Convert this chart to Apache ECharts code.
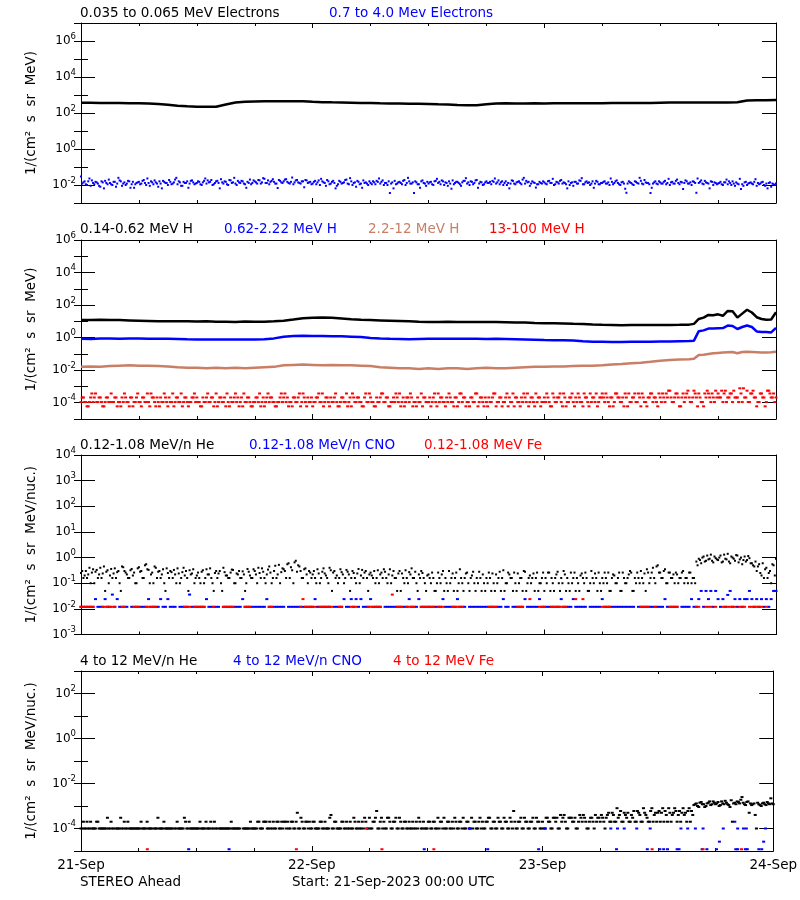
<!DOCTYPE html>
<html><head><meta charset="utf-8">
<script src="https://cdn.jsdelivr.net/npm/echarts@6/dist/echarts.min.js"></script>
<style>html,body{margin:0;padding:0;background:#fff}#c{width:800px;height:900px}</style>
</head><body><div id="c"></div>
<script>
const _ = null;
const STEP = 0.25;   // hours between samples of the scatter series
const OFFSET = 0.125; // second (interleaved) sample set starts half a step later
const xTickLabels = ['21-Sep', '22-Sep', '23-Sep', '24-Sep'];

// Panel 1: 0.035-0.065 MeV electrons (hourly)
const eLow = [370,368,365,362,358,352, 345,335,320,290, 250,235,225,220,222, 300,380,425,
  440,445,448,450,450,445, 420,400,390,385,375, 365,355,345,340,335,330,325,320,
  305,298,280,268,270, 310,340,345,340,342,345,340, 345,348,350,345,350,352,355,355,358,360,
  362,375,380,380,378,380,382,385, 388,395,500,510,505,520];
// Panel 1: 0.7-4.0 MeV electrons (samples at i*STEP)
const eHigh = [
  0.03,0.014,0.011,0.016,0.009,0.013,0.015,0.012,0.008,0.014,0.017,0.011,0.013,0.01,0.015,0.012,0.018,0.009,0.014,0.012,0.016,0.011,0.007,0.013,
  0.015,0.012,0.019,0.01,0.013,0.016,0.011,0.014,0.008,0.012,0.017,0.013,0.01,0.015,0.012,0.02,0.011,0.014,0.009,0.013,0.016,0.012,0.018,0.011,
  0.013,0.015,0.01,0.017,0.012,0.014,0.019,0.011,0.016,0.013,0.021,0.012,0.015,0.01,0.018,0.014,0.012,0.017,0.013,0.016,0.011,0.015,0.02,0.013,
  0.016,0.012,0.018,0.014,0.022,0.013,0.011,0.017,0.015,0.012,0.019,0.014,0.016,0.021,0.013,0.015,0.011,0.018,0.014,0.012,0.016,0.019,0.013,0.015,
  0.012,0.017,0.014,0.01,0.016,0.013,0.019,0.011,0.015,0.013,0.009,0.017,0.012,0.014,0.02,0.011,0.016,0.013,0.008,0.015,0.012,0.018,0.014,0.01,
  0.013,0.016,0.011,0.015,0.012,0.018,0.013,0.01,0.0036,0.014,0.017,0.012,0.015,0.011,0.019,0.013,0.016,0.012,0.0036,0.014,0.011,0.016,0.013,0.009,
  0.012,0.015,0.01,0.017,0.013,0.011,0.016,0.014,0.009,0.012,0.018,0.013,0.015,0.011,0.014,0.017,0.012,0.01,0.015,0.013,0.019,0.012,0.014,0.011,
  0.016,0.013,0.011,0.015,0.012,0.018,0.014,0.01,0.016,0.013,0.012,0.017,0.011,0.015,0.013,0.02,0.012,0.014,0.009,0.016,0.013,0.011,0.015,0.012,
  0.014,0.011,0.017,0.013,0.01,0.015,0.012,0.019,0.014,0.011,0.016,0.013,0.009,0.015,0.012,0.017,0.011,0.014,0.013,0.01,0.016,0.012,0.015,0.011,
  0.013,0.016,0.012,0.01,0.015,0.013,0.018,0.011,0.014,0.012,0.0037,0.016,0.013,0.01,0.015,0.012,0.017,0.011,0.014,0.013,0.0036,0.012,0.016,0.011,
  0.014,0.012,0.017,0.013,0.01,0.015,0.012,0.02,0.011,0.014,0.013,0.016,0.012,0.01,0.015,0.0037,0.013,0.018,0.011,0.014,0.012,0.016,0.01,0.013,
  0.012,0.015,0.01,0.014,0.011,0.013,0.016,0.009,0.012,0.022,0.011,0.014,0.01,0.013,0.012,0.015,0.009,0.011,0.014,0.01,0.012,0.013,0.008,0.011,
  0.012];
// Panel 1: 0.7-4.0 MeV electrons (samples at i*STEP + OFFSET)
const eHighB = [
  0.012,0.016,0.01,0.023,0.018,0.011,0.014,0.009,0.016,0.0065,0.013,0.02,0.011,0.015,0.008,0.025,0.016,0.012,0.01,0.017,0.007,0.015,0.011,0.014,
  0.011,0.017,0.013,0.023,0.009,0.014,0.018,0.012,0.016,0.0065,0.015,0.013,0.019,0.011,0.014,0.025,0.016,0.009,0.015,0.013,0.007,0.017,0.014,0.012,
  0.016,0.011,0.014,0.023,0.018,0.015,0.01,0.013,0.017,0.0065,0.014,0.016,0.011,0.019,0.013,0.025,0.01,0.014,0.017,0.012,0.007,0.013,0.011,0.018,
  0.014,0.019,0.012,0.024,0.013,0.018,0.015,0.021,0.012,0.0068,0.017,0.013,0.02,0.015,0.012,0.026,0.014,0.019,0.013,0.016,0.0075,0.018,0.014,0.011,
  0.015,0.011,0.018,0.022,0.014,0.009,0.016,0.012,0.017,0.0065,0.011,0.015,0.013,0.019,0.012,0.024,0.01,0.014,0.017,0.011,0.007,0.013,0.012,0.016,
  0.011,0.014,0.017,0.023,0.015,0.01,0.013,0.016,0.012,0.0065,0.011,0.014,0.013,0.017,0.01,0.025,0.012,0.014,0.016,0.011,0.007,0.018,0.012,0.015,
  0.014,0.011,0.016,0.022,0.015,0.018,0.01,0.013,0.016,0.0062,0.011,0.015,0.013,0.009,0.017,0.024,0.014,0.016,0.011,0.018,0.007,0.015,0.01,0.014,
  0.013,0.015,0.017,0.023,0.014,0.011,0.016,0.013,0.01,0.0065,0.018,0.012,0.014,0.016,0.011,0.025,0.017,0.015,0.012,0.014,0.0072,0.011,0.013,0.016,
  0.012,0.016,0.013,0.022,0.011,0.014,0.017,0.012,0.013,0.0065,0.01,0.014,0.015,0.012,0.018,0.024,0.011,0.016,0.014,0.012,0.007,0.017,0.011,0.013,
  0.015,0.012,0.014,0.023,0.011,0.016,0.013,0.01,0.015,0.0062,0.012,0.014,0.011,0.016,0.013,0.025,0.012,0.019,0.013,0.011,0.007,0.014,0.012,0.016,
  0.012,0.015,0.011,0.022,0.014,0.012,0.017,0.013,0.015,0.006,0.018,0.012,0.014,0.016,0.013,0.023,0.015,0.012,0.017,0.013,0.0065,0.015,0.014,0.011,
  0.013,0.011,0.014,0.02,0.016,0.01,0.012,0.014,0.011,0.006,0.009,0.015,0.012,0.014,0.011,0.021,0.013,0.012,0.015,0.009,0.0065,0.014,0.012,0.01];

// Panel 2 lines: hours 0..63 hourly, then half-hourly to 72
const tP2 = [];
for (let h = 0; h <= 63; h++) tP2.push(h);
for (let h = 63.5; h <= 72; h += 0.5) tP2.push(h);
const hLow = [12,12,12.5,12,12,11.5,11, 10.5,10,10,10,10,9.8,10,9.6, 9.5,9.3,9.8,9.5,9.6,10,
  11,13,15.5,16.5,17,16.5,15, 13.5,12.5,12,11.5,11,10.5,10,9.5,
  9.3,9.3,9.5,9.2,9.3,9.0,9.2,9.0,8.8,8.6,8.5, 8,7.7,7.6,7.5,7.2,7.0,
  6.5,6.2,6.0,5.8,6.0,6.0,5.9,6.0,6.0,6.1,6.3,
  7,14,17,25,24,27,22,44,42,17,30,52,35,18,14,12.5,13,36];
const hMid = [0.85,0.83,0.88,0.9,0.86,0.88,0.87, 0.86,0.85,0.84,0.83,0.8,0.78,0.76,0.77, 0.76,0.77,0.78,0.77,0.8,0.9,
  1.15,1.25,1.3,1.28,1.25,1.22,1.2, 1.15,1.1,0.95,0.88,0.85,0.83,0.8,0.82,
  0.84,0.86,0.85,0.84,0.85,0.84,0.83,0.84,0.82,0.8,0.78, 0.75,0.72,0.7,0.68,0.66,0.6,
  0.56,0.55,0.54,0.53,0.55,0.56,0.55,0.57,0.58,0.6,0.62,
  0.65,2.5,2.8,3.6,3.7,3.8,3.9,5.5,5.2,3.4,4.5,5.6,4.5,2.4,2.2,2.2,2.1,4.0];
const hHigh = [0.016,0.017,0.016,0.018,0.019,0.02,0.019, 0.019,0.018,0.017,0.015,0.014,0.014,0.013,0.014,
  0.013,0.014,0.013,0.014,0.015,0.016, 0.02,0.021,0.022,0.021,0.02,0.021,0.02,
  0.02,0.019,0.018,0.015,0.014,0.013,0.013,0.012,
  0.013,0.012,0.013,0.013,0.012,0.013,0.014,0.013,0.013,0.014,0.015, 0.016,0.016,0.017,0.017,0.018,0.019,
  0.019,0.02,0.022,0.024,0.027,0.029,0.033,0.038,0.042,0.045,0.047,
  0.05,0.085,0.09,0.1,0.11,0.115,0.12,0.125,0.13,0.11,0.13,0.135,0.13,0.125,0.12,0.12,0.125,0.135];
// Panel 2: 13-100 MeV H (samples at i*STEP)
const hTop = [
  1.1e-4,2.1e-4,1.1e-4,6e-5,2.1e-4,1.1e-4,3.7e-4,1.1e-4,2.1e-4,6e-5,1.1e-4,2.1e-4,1.1e-4,1.1e-4,2.1e-4,6e-5,1.1e-4,2.1e-4,3.7e-4,1.1e-4,6e-5,2.1e-4,1.1e-4,2.1e-4,
  1.1e-4,6e-5,2.1e-4,1.1e-4,1.1e-4,3.7e-4,2.1e-4,6e-5,1.1e-4,2.1e-4,1.1e-4,2.1e-4,6e-5,1.1e-4,3.7e-4,1.1e-4,2.1e-4,1.1e-4,6e-5,2.1e-4,1.1e-4,1.1e-4,2.1e-4,3.7e-4,
  2.1e-4,1.1e-4,6e-5,1.1e-4,2.1e-4,1.1e-4,2.1e-4,6e-5,3.7e-4,1.1e-4,2.1e-4,1.1e-4,6e-5,1.1e-4,2.1e-4,1.1e-4,3.7e-4,2.1e-4,1.1e-4,6e-5,1.1e-4,2.1e-4,1.1e-4,6e-5,
  1.1e-4,2.1e-4,3.7e-4,1.1e-4,6e-5,2.1e-4,1.1e-4,2.1e-4,1.1e-4,6e-5,1.1e-4,3.7e-4,2.1e-4,1.1e-4,6e-5,1.1e-4,2.1e-4,1.1e-4,2.1e-4,6e-5,3.7e-4,1.1e-4,2.1e-4,1.1e-4,
  6e-5,1.1e-4,2.1e-4,1.1e-4,3.7e-4,1.1e-4,2.1e-4,6e-5,1.1e-4,2.1e-4,1.1e-4,6e-5,2.1e-4,1.1e-4,3.7e-4,1.1e-4,6e-5,2.1e-4,1.1e-4,2.1e-4,1.1e-4,6e-5,3.7e-4,1.1e-4,
  2.1e-4,1.1e-4,6e-5,1.1e-4,2.1e-4,3.7e-4,1.1e-4,2.1e-4,6e-5,1.1e-4,1.1e-4,2.1e-4,3.7e-4,1.1e-4,6e-5,2.1e-4,1.1e-4,2.1e-4,1.1e-4,6e-5,1.1e-4,3.7e-4,2.1e-4,1.1e-4,
  1.1e-4,6e-5,2.1e-4,1.1e-4,3.7e-4,2.1e-4,1.1e-4,6e-5,1.1e-4,2.1e-4,1.1e-4,2.1e-4,6e-5,3.7e-4,1.1e-4,2.1e-4,1.1e-4,6e-5,2.1e-4,1.1e-4,3.7e-4,1.1e-4,2.1e-4,6e-5,
  1.1e-4,2.1e-4,1.1e-4,3.7e-4,6e-5,1.1e-4,2.1e-4,1.1e-4,2.1e-4,6e-5,1.1e-4,3.7e-4,2.1e-4,1.1e-4,6e-5,1.1e-4,2.1e-4,3.7e-4,1.1e-4,2.1e-4,6e-5,1.1e-4,2.1e-4,1.1e-4,
  2.1e-4,3.7e-4,1.1e-4,6e-5,2.1e-4,1.1e-4,2.1e-4,1.1e-4,3.7e-4,6e-5,1.1e-4,2.1e-4,1.1e-4,2.1e-4,3.7e-4,1.1e-4,6e-5,2.1e-4,1.1e-4,3.7e-4,2.1e-4,1.1e-4,6e-5,2.1e-4,
  3.7e-4,1.1e-4,2.1e-4,6e-5,2.1e-4,1.1e-4,3.7e-4,2.1e-4,1.1e-4,6e-5,2.1e-4,3.7e-4,1.1e-4,2.1e-4,1.1e-4,3.7e-4,6e-5,2.1e-4,1.1e-4,2.1e-4,3.7e-4,1.1e-4,2.1e-4,6e-5,
  2.1e-4,3.7e-4,1.1e-4,2.1e-4,5.5e-4,1.1e-4,2.1e-4,3.7e-4,6e-5,2.1e-4,1.1e-4,3.7e-4,2.1e-4,1.1e-4,5.5e-4,2.1e-4,3.7e-4,1.1e-4,6e-5,2.1e-4,3.7e-4,1.1e-4,2.1e-4,5.5e-4,
  3.7e-4,2.1e-4,1.1e-4,5.5e-4,2.1e-4,3.7e-4,1.1e-4,2.1e-4,2.1e-4,7.7e-4,1.1e-4,2.1e-4,5.5e-4,1.1e-4,3.7e-4,2.1e-4,6e-5,1.1e-4,3.7e-4,2.1e-4,1.1e-4,5.5e-4,2.1e-4,3.7e-4,
  2.1e-4];
// Panel 2: 13-100 MeV H (samples at i*STEP + OFFSET)
const hTopB = [
  2.1e-4,1.1e-4,6e-5,1.1e-4,3.7e-4,2.1e-4,1.1e-4,2.1e-4,1.1e-4,6e-5,2.1e-4,1.1e-4,3.7e-4,1.1e-4,2.1e-4,1.1e-4,6e-5,1.1e-4,2.1e-4,1.1e-4,2.1e-4,6e-5,1.1e-4,3.7e-4,
  1.1e-4,2.1e-4,1.1e-4,3.7e-4,6e-5,2.1e-4,1.1e-4,2.1e-4,6e-5,1.1e-4,3.7e-4,1.1e-4,2.1e-4,1.1e-4,6e-5,2.1e-4,1.1e-4,3.7e-4,1.1e-4,2.1e-4,6e-5,1.1e-4,2.1e-4,1.1e-4,
  1.1e-4,6e-5,2.1e-4,1.1e-4,3.7e-4,1.1e-4,2.1e-4,1.1e-4,6e-5,2.1e-4,1.1e-4,2.1e-4,3.7e-4,6e-5,1.1e-4,2.1e-4,1.1e-4,6e-5,2.1e-4,3.7e-4,1.1e-4,2.1e-4,6e-5,1.1e-4,
  2.1e-4,1.1e-4,6e-5,2.1e-4,1.1e-4,3.7e-4,2.1e-4,1.1e-4,6e-5,1.1e-4,2.1e-4,1.1e-4,3.7e-4,2.1e-4,1.1e-4,6e-5,2.1e-4,1.1e-4,3.7e-4,1.1e-4,2.1e-4,6e-5,1.1e-4,2.1e-4,
  1.1e-4,2.1e-4,3.7e-4,1.1e-4,6e-5,2.1e-4,1.1e-4,2.1e-4,1.1e-4,3.7e-4,6e-5,1.1e-4,2.1e-4,1.1e-4,6e-5,2.1e-4,3.7e-4,1.1e-4,2.1e-4,1.1e-4,6e-5,2.1e-4,1.1e-4,3.7e-4,
  1.1e-4,6e-5,2.1e-4,1.1e-4,3.7e-4,1.1e-4,2.1e-4,6e-5,1.1e-4,2.1e-4,3.7e-4,1.1e-4,6e-5,2.1e-4,1.1e-4,2.1e-4,3.7e-4,6e-5,1.1e-4,2.1e-4,1.1e-4,6e-5,2.1e-4,1.1e-4,
  2.1e-4,1.1e-4,3.7e-4,6e-5,1.1e-4,2.1e-4,1.1e-4,2.1e-4,3.7e-4,1.1e-4,6e-5,2.1e-4,1.1e-4,3.7e-4,2.1e-4,6e-5,1.1e-4,2.1e-4,1.1e-4,3.7e-4,6e-5,2.1e-4,1.1e-4,2.1e-4,
  6e-5,1.1e-4,2.1e-4,3.7e-4,1.1e-4,2.1e-4,6e-5,1.1e-4,3.7e-4,2.1e-4,1.1e-4,6e-5,2.1e-4,1.1e-4,2.1e-4,3.7e-4,1.1e-4,6e-5,2.1e-4,1.1e-4,3.7e-4,2.1e-4,6e-5,1.1e-4,
  1.1e-4,2.1e-4,6e-5,3.7e-4,1.1e-4,2.1e-4,3.7e-4,6e-5,2.1e-4,1.1e-4,2.1e-4,3.7e-4,6e-5,1.1e-4,2.1e-4,1.1e-4,3.7e-4,2.1e-4,6e-5,1.1e-4,2.1e-4,3.7e-4,1.1e-4,2.1e-4,
  2.1e-4,3.7e-4,1.1e-4,2.1e-4,6e-5,3.7e-4,2.1e-4,1.1e-4,2.1e-4,3.7e-4,6e-5,1.1e-4,2.1e-4,3.7e-4,1.1e-4,2.1e-4,3.7e-4,1.1e-4,6e-5,2.1e-4,3.7e-4,2.1e-4,1.1e-4,3.7e-4,
  1.1e-4,2.1e-4,3.7e-4,5.5e-4,2.1e-4,1.1e-4,3.7e-4,2.1e-4,6e-5,3.7e-4,2.1e-4,5.5e-4,1.1e-4,2.1e-4,3.7e-4,6e-5,2.1e-4,1.1e-4,3.7e-4,5.5e-4,2.1e-4,3.7e-4,1.1e-4,2.1e-4,
  2.1e-4,5.5e-4,3.7e-4,1.1e-4,2.1e-4,3.7e-4,5.5e-4,2.1e-4,1.1e-4,3.7e-4,7.7e-4,2.1e-4,1.1e-4,3.7e-4,5.5e-4,2.1e-4,1.1e-4,3.7e-4,2.1e-4,6e-5,5.5e-4,3.7e-4,2.1e-4,1.1e-4];

// Panel 3: 0.12-1.08 MeV/n (samples at i*STEP)
const heLow = [
  0.25,0.16,0.3,0.22,0.1,0.35,0.28,0.16,0.4,0.24,0.05,0.32,0.2,0.16,0.38,0.27,0.1,0.45,0.3,0.22,0.16,0.36,0.26,0.1,
  0.42,0.3,0.16,0.55,0.33,0.22,0.1,0.4,0.28,0.16,0.35,0.05,0.25,0.3,0.16,0.22,0.38,0.1,0.27,0.2,0.16,0.32,0.24,0.1,
  0.2,0.16,0.28,0.1,0.35,0.22,0.16,0.05,0.3,0.24,0.1,0.4,0.2,0.16,0.26,0.33,0.1,0.22,0.16,0.29,0.05,0.36,0.2,0.16,
  0.3,0.1,0.25,0.38,0.16,0.22,0.45,0.1,0.3,0.16,0.52,0.27,0.35,0.16,0.6,0.42,0.1,0.75,0.5,0.3,0.16,0.38,0.1,0.26,
  0.22,0.16,0.35,0.1,0.28,0.24,0.16,0.4,0.05,0.3,0.2,0.16,0.27,0.1,0.33,0.22,0.16,0.25,0.1,0.36,0.2,0.16,0.3,0.05,
  0.26,0.16,0.1,0.32,0.22,0.16,0.28,0.1,0.35,0.2,0.16,0.05,0.3,0.24,0.1,0.16,0.27,0.38,0.16,0.1,0.22,0.3,0.16,0.05,
  0.22,0.1,0.16,0.05,0.26,0.1,0.3,0.16,0.05,0.1,0.24,0.16,0.05,0.35,0.1,0.16,0.26,0.05,0.2,0.1,0.16,0.28,0.05,0.1,
  0.16,0.26,0.05,0.1,0.22,0.16,0.05,0.32,0.1,0.26,0.16,0.05,0.1,0.24,0.16,0.05,0.28,0.1,0.2,0.16,0.05,0.26,0.1,0.16,
  0.05,0.1,0.26,0.16,0.05,0.22,0.1,0.16,0.3,0.05,0.1,0.26,0.16,0.05,0.1,0.2,0.16,0.26,0.05,0.1,0.16,0.24,0.05,0.1,
  0.16,0.26,0.1,0.05,0.16,0.2,0.1,0.26,0.05,0.16,0.1,0.22,0.26,0.05,0.1,0.16,0.3,0.1,0.05,0.26,0.16,0.4,0.1,0.5,
  0.26,0.16,0.35,0.1,0.26,0.16,0.1,0.22,0.16,0.26,0.1,0.16,0.26,0.1,0.16,0.7,0.9,0.6,1.1,0.75,0.85,1.3,0.65,0.95,
  0.8,1.2,0.7,0.9,1.4,0.6,1.0,0.75,1.2,0.85,0.55,1.1,0.8,0.95,0.6,0.45,0.3,0.55,0.2,0.16,0.4,0.25,0.1,0.5,
  0.9];
// Panel 3: 0.12-1.08 MeV/n He (samples at i*STEP + OFFSET)
const heLowB = [
  0.3,0.2,0.16,0.4,0.26,0.1,0.33,0.22,0.16,0.45,0.28,0.1,0.36,0.24,0.16,0.3,0.05,0.42,0.26,0.16,0.32,0.2,0.1,0.38,
  0.28,0.16,0.5,0.35,0.1,0.26,0.45,0.16,0.3,0.22,0.1,0.38,0.16,0.27,0.33,0.1,0.24,0.16,0.4,0.3,0.05,0.22,0.35,0.16,
  0.26,0.1,0.32,0.16,0.22,0.38,0.1,0.25,0.16,0.3,0.05,0.27,0.2,0.16,0.34,0.1,0.24,0.3,0.16,0.22,0.1,0.28,0.16,0.35,
  0.22,0.4,0.16,0.28,0.1,0.34,0.26,0.16,0.48,0.22,0.1,0.38,0.3,0.55,0.16,0.32,0.65,0.28,0.45,0.16,0.35,0.22,0.3,0.16,
  0.3,0.1,0.24,0.16,0.38,0.2,0.1,0.32,0.26,0.16,0.1,0.35,0.22,0.16,0.28,0.05,0.3,0.16,0.24,0.1,0.33,0.26,0.16,0.22,
  0.2,0.3,0.16,0.1,0.26,0.35,0.16,0.22,0.1,0.3,0.16,0.24,0.05,0.16,0.32,0.1,0.22,0.16,0.28,0.05,0.16,0.25,0.1,0.2,
  0.16,0.26,0.05,0.1,0.16,0.22,0.05,0.1,0.3,0.16,0.05,0.26,0.1,0.16,0.05,0.24,0.1,0.16,0.28,0.05,0.1,0.16,0.22,0.05,
  0.1,0.16,0.24,0.05,0.1,0.28,0.16,0.05,0.1,0.22,0.16,0.26,0.05,0.1,0.16,0.3,0.05,0.16,0.1,0.24,0.16,0.05,0.1,0.26,
  0.16,0.26,0.05,0.1,0.16,0.28,0.05,0.1,0.22,0.16,0.05,0.1,0.26,0.16,0.05,0.24,0.1,0.16,0.05,0.3,0.1,0.16,0.26,0.05,
  0.1,0.16,0.26,0.05,0.22,0.1,0.16,0.05,0.26,0.1,0.16,0.3,0.05,0.16,0.26,0.1,0.16,0.24,0.35,0.1,0.26,0.16,0.45,0.26,
  0.16,0.3,0.1,0.26,0.16,0.22,0.26,0.1,0.16,0.3,0.16,0.1,0.26,0.16,0.1,0.5,0.8,1.0,0.7,1.2,0.9,0.75,1.1,0.85,
  1.0,0.65,1.3,0.85,0.7,1.1,0.9,1.25,0.65,1.0,0.8,0.7,1.15,0.6,0.5,0.7,0.45,0.25,0.6,0.35,0.16,0.3,0.55,0.2];
const cnoLow = [
  0.012,0.012,0.012,0.012,0.012,0.012,0.024,0.012,0.012,0.012,0.024,0.012,0.012,0.036,0.012,0.024,0.012,0.012,0.012,0.012,_,0.012,0.012,0.012,
  0.012,0.012,0.012,0.012,0.024,0.012,0.012,0.012,0.012,0.024,0.012,0.012,0.024,0.012,0.012,0.012,_,0.012,0.012,0.012,0.012,0.036,0.012,0.012,
  0.012,0.012,0.012,0.012,0.024,0.012,0.012,0.012,0.012,0.012,_,0.012,0.012,0.012,0.012,0.012,0.012,0.012,0.012,0.024,0.012,0.012,0.012,0.012,
  0.012,0.012,0.012,0.012,0.012,0.024,0.012,0.012,0.012,0.012,0.012,0.012,0.012,_,0.012,0.012,0.012,0.012,0.012,0.012,0.012,0.012,0.012,0.012,
  0.012,0.024,0.012,0.012,0.012,0.012,0.012,0.012,_,0.012,0.012,0.012,0.012,0.024,0.012,0.012,0.024,0.012,0.024,0.012,0.024,0.012,0.012,0.012,
  0.024,0.012,0.012,0.012,0.012,_,0.012,0.012,0.012,0.012,0.012,0.012,0.012,0.012,0.012,0.012,0.024,0.012,0.012,0.012,0.024,0.012,0.012,0.012,
  0.012,0.012,0.012,0.012,0.012,0.012,0.024,0.012,0.012,0.012,0.012,0.012,0.024,0.012,0.012,0.012,_,0.012,0.012,0.012,0.012,0.012,0.012,0.012,
  0.012,0.012,0.012,0.012,0.012,0.012,0.012,0.024,0.012,0.012,_,0.012,0.012,0.012,0.012,0.012,0.024,0.012,0.012,0.012,0.012,0.012,0.024,0.012,
  0.012,0.012,0.012,0.012,0.012,0.012,0.012,0.024,0.012,0.012,0.012,0.012,0.024,0.012,0.012,0.012,0.012,0.012,_,0.012,0.012,0.012,0.012,0.012,
  0.024,0.012,0.012,0.012,0.012,0.012,0.012,0.012,0.012,0.012,0.012,0.012,0.012,0.012,_,0.012,0.012,0.012,0.012,0.012,0.012,0.012,0.012,0.012,
  0.012,0.012,0.024,0.012,0.012,0.012,0.012,0.012,_,0.012,0.012,0.012,0.012,0.024,0.012,0.012,0.024,0.05,0.012,0.05,0.024,0.05,0.012,0.05,
  0.024,0.012,0.024,0.012,0.035,0.05,0.012,0.024,0.012,0.024,0.012,0.024,0.024,0.05,0.024,0.012,0.024,0.012,0.024,0.012,0.024,0.012,0.024,0.05,
  0.05];
const feLow = [
  0.012,0.012,0.012,0.012,0.012,0.012,_,_,_,0.012,0.012,0.012,0.012,0.012,0.012,_,_,0.012,0.012,_,_,_,0.012,0.012,
  0.012,_,_,0.012,0.012,0.012,0.012,0.012,_,_,_,_,_,_,_,_,_,_,_,0.012,0.012,0.012,_,0.012,
  0.012,0.012,0.012,0.012,_,_,_,0.012,_,_,_,0.012,0.012,0.012,0.012,0.012,_,_,_,_,0.012,0.012,0.012,_,
  _,_,_,_,_,_,0.012,0.012,_,_,_,_,_,_,_,_,_,_,_,0.012,0.024,0.012,0.012,0.012,
  0.012,0.012,_,0.012,0.012,0.012,0.012,0.012,0.012,_,_,0.012,0.012,_,_,_,0.012,0.012,0.012,_,_,_,_,0.012,
  0.012,0.012,0.012,0.012,0.012,_,_,_,_,0.036,_,0.012,0.012,0.012,_,0.012,0.012,0.012,0.012,_,_,0.012,0.012,0.012,
  0.012,0.012,0.012,_,0.012,0.012,0.012,_,_,_,0.012,0.012,0.012,0.012,0.012,_,_,_,_,_,_,_,_,_,
  _,0.012,0.012,0.012,0.012,_,_,_,_,_,_,_,_,0.012,0.012,0.012,_,_,0.024,_,_,_,0.012,0.012,
  0.012,_,_,0.012,0.012,0.012,0.012,0.012,0.012,0.012,_,_,_,0.024,_,_,0.024,_,_,_,_,_,_,_,
  0.012,0.012,0.012,0.012,_,_,_,_,_,_,_,_,_,_,_,_,0.012,0.012,0.012,0.012,_,_,0.012,_,
  _,_,_,_,0.012,0.012,0.012,0.012,_,_,_,_,_,_,_,0.012,0.012,_,_,0.012,0.012,0.012,_,0.012,
  _,_,0.012,0.012,0.012,0.012,0.012,0.012,_,0.012,0.012,0.012,_,0.012,0.012,0.012,0.012,0.012,0.012,_,0.012,_,_,_,
  _];

// Panel 4: 4-12 MeV/n He (samples at i*STEP)
const heHigh = [
  1e-4,2e-4,1e-4,1e-4,2e-4,1e-4,1e-4,2e-4,1e-4,1e-4,1e-4,3e-4,1e-4,1e-4,_,1e-4,1e-4,1e-4,2e-4,1e-4,1e-4,1e-4,1e-4,1e-4,
  1e-4,2e-4,1e-4,1e-4,1e-4,1e-4,_,1e-4,3e-4,1e-4,1e-4,1e-4,1e-4,1e-4,1e-4,1e-4,2e-4,1e-4,1e-4,3e-4,1e-4,2e-4,1e-4,1e-4,
  1e-4,1e-4,1e-4,1e-4,2e-4,1e-4,2e-4,1e-4,1e-4,_,1e-4,1e-4,1e-4,1e-4,1e-4,1e-4,1e-4,1e-4,1e-4,_,1e-4,1e-4,1e-4,1e-4,
  1e-4,1e-4,2e-4,1e-4,2e-4,2e-4,1e-4,1e-4,2e-4,1e-4,2e-4,1e-4,1e-4,2e-4,2e-4,1e-4,2e-4,1e-4,5e-4,1e-4,2e-4,1e-4,2e-4,2e-4,
  1e-4,2e-4,1e-4,1e-4,2e-4,1e-4,1e-4,1e-4,4e-4,1e-4,2e-4,1e-4,1e-4,2e-4,1e-4,1e-4,2e-4,1e-4,2e-4,1e-4,1e-4,2e-4,3e-4,1e-4,
  3e-4,1e-4,2e-4,6e-4,1e-4,3e-4,2e-4,1e-4,3e-4,1e-4,2e-4,3e-4,1e-4,2e-4,1e-4,2e-4,1e-4,1e-4,2e-4,1e-4,1e-4,2e-4,1e-4,1e-4,
  1e-4,2e-4,1e-4,2e-4,1e-4,1e-4,2e-4,3e-4,1e-4,2e-4,1e-4,1e-4,2e-4,1e-4,2e-4,3e-4,1e-4,2e-4,1e-4,1e-4,2e-4,1e-4,3e-4,2e-4,
  1e-4,2e-4,3e-4,1e-4,2e-4,1e-4,2e-4,1e-4,3e-4,2e-4,1e-4,2e-4,6e-4,1e-4,2e-4,3e-4,1e-4,2e-4,1e-4,2e-4,3e-4,1e-4,2e-4,1e-4,
  2e-4,1e-4,3e-4,2e-4,1e-4,3e-4,3e-4,1e-4,2e-4,4e-4,1e-4,3e-4,3e-4,2e-4,1e-4,2e-4,3e-4,4e-4,2e-4,1e-4,3e-4,2e-4,4e-4,3e-4,
  2e-4,3e-4,1e-4,4e-4,2e-4,5e-4,2e-4,8e-4,4e-4,2e-4,5e-4,3e-4,2e-4,4e-4,6e-4,2e-4,5e-4,2e-4,8e-4,4e-4,2e-4,6e-4,2e-4,5e-4,
  5e-4,2e-4,8e-4,6e-4,2e-4,5e-4,4e-4,8e-4,2e-4,6e-4,5e-4,4e-4,2e-4,8e-4,6e-4,1.1e-3,1.3e-3,9e-4,1.5e-3,1.2e-3,1e-3,1.4e-3,1.1e-3,1.6e-3,
  1.2e-3,1.5e-3,1.1e-3,1.3e-3,1.7e-3,1.2e-3,9e-4,2e-4,1.4e-3,1.6e-3,1.3e-3,2.5e-3,1.2e-3,1.5e-3,5e-4,1.1e-3,1.3e-3,1e-4,1.2e-3,1e-3,1.4e-3,1.1e-3,1.3e-3,2.2e-3,
  1.2e-3];
// Panel 4: 4-12 MeV/n He (samples at i*STEP + OFFSET)
const heHighB = [
  1e-4,1e-4,2e-4,1e-4,1e-4,1e-4,2e-4,1e-4,1e-4,1e-4,1e-4,1e-4,2e-4,1e-4,1e-4,1e-4,3e-4,1e-4,1e-4,2e-4,1e-4,1e-4,1e-4,1e-4,
  1e-4,1e-4,1e-4,2e-4,1e-4,1e-4,1e-4,1e-4,1e-4,1e-4,2e-4,1e-4,1e-4,1e-4,_,1e-4,1e-4,1e-4,1e-4,2e-4,1e-4,1e-4,1e-4,1e-4,
  1e-4,2e-4,1e-4,1e-4,1e-4,1e-4,1e-4,2e-4,1e-4,1e-4,1e-4,1e-4,1e-4,1e-4,2e-4,1e-4,1e-4,1e-4,_,1e-4,1e-4,1e-4,2e-4,1e-4,
  1e-4,2e-4,1e-4,1e-4,2e-4,1e-4,2e-4,1e-4,1e-4,2e-4,1e-4,2e-4,2e-4,1e-4,1e-4,2e-4,1e-4,2e-4,1e-4,3e-4,1e-4,2e-4,1e-4,1e-4,
  2e-4,1e-4,1e-4,2e-4,1e-4,2e-4,1e-4,3e-4,1e-4,2e-4,1e-4,1e-4,2e-4,1e-4,2e-4,1e-4,1e-4,3e-4,1e-4,2e-4,1e-4,1e-4,2e-4,1e-4,
  1e-4,2e-4,3e-4,1e-4,2e-4,1e-4,1e-4,3e-4,2e-4,1e-4,2e-4,1e-4,3e-4,1e-4,2e-4,1e-4,2e-4,1e-4,1e-4,2e-4,3e-4,1e-4,2e-4,1e-4,
  2e-4,1e-4,2e-4,1e-4,3e-4,2e-4,1e-4,1e-4,2e-4,1e-4,2e-4,3e-4,1e-4,2e-4,1e-4,1e-4,2e-4,1e-4,3e-4,2e-4,1e-4,2e-4,1e-4,1e-4,
  2e-4,3e-4,1e-4,2e-4,1e-4,3e-4,2e-4,1e-4,2e-4,1e-4,3e-4,1e-4,2e-4,1e-4,2e-4,1e-4,3e-4,2e-4,1e-4,2e-4,1e-4,3e-4,2e-4,1e-4,
  1e-4,3e-4,2e-4,1e-4,3e-4,2e-4,1e-4,4e-4,3e-4,2e-4,1e-4,3e-4,2e-4,3e-4,1e-4,4e-4,2e-4,3e-4,1e-4,2e-4,3e-4,1e-4,2e-4,3e-4,
  4e-4,2e-4,3e-4,5e-4,2e-4,4e-4,2e-4,3e-4,6e-4,2e-4,4e-4,5e-4,2e-4,3e-4,2e-4,6e-4,4e-4,2e-4,5e-4,3e-4,2e-4,8e-4,4e-4,2e-4,
  6e-4,5e-4,2e-4,4e-4,8e-4,2e-4,5e-4,6e-4,4e-4,2e-4,8e-4,5e-4,6e-4,2e-4,4e-4,1.2e-3,1e-3,1.4e-3,1.2e-3,9e-4,1.3e-3,1.6e-3,1.2e-3,1.4e-3,
  1.3e-3,1e-3,1.6e-3,1.2e-3,1.4e-3,1.1e-3,1.8e-3,1.3e-3,1.2e-3,1.5e-3,1.9e-3,1.4e-3,1.1e-3,1.6e-3,1.3e-3,1.2e-3,4e-4,1.4e-3,1.1e-3,1.3e-3,1.2e-3,1.5e-3,1.2e-3,1.3e-3];
const cnoHighT = [11.2,15.4,35.7,40.4,42.3,47.6,48.3,55.1,55.7,55.8,56.5,57.8,58.9,59.2,60.2,60.6,61.0,62.0,62.2,62.4,
  63.1,63.9,64.6,64.7,65.1,66.1,66.4,66.8,68.0,68.1,68.3,68.3,68.9,69.1,69.2,69.3,70.5,70.8,71.0,71.2];
const cnoHighV = [1.2e-5,1.2e-5,1.2e-5,1e-4,1.2e-5,1.2e-5,1e-4,1e-4,1.2e-5,1e-4,1e-4,1e-4,1.2e-5,1e-4,1.2e-5,1.2e-5,1.2e-5,1.2e-5,1.2e-5,1e-4,
  1e-4,1e-4,1.2e-5,1e-4,1.2e-5,1.2e-5,2.6e-5,1e-4,2e-4,1.2e-5,1.2e-5,1e-4,1e-4,1.2e-5,1e-4,1.2e-5,1.2e-5,1.2e-5,2.6e-5,1e-4];
const feHighT = [6.9,22.4,29.7,31.3,36.7,59.4,64.7,68.7];
const feHighV = [1.2e-5,1.2e-5,1e-4,1.2e-5,1.2e-5,1.2e-5,1.2e-5,1.2e-5];

// Titles
const titleRows = [
  {y: 13, items: [['0.035 to 0.065 MeV Electrons', 80, '#000000'], ['0.7 to 4.0 Mev Electrons', 329, '#0000ff']]},
  {y: 229, items: [['0.14-0.62 MeV H', 80, '#000000'], ['0.62-2.22 MeV H', 224, '#0000ff'], ['2.2-12 MeV H', 368, '#c97f66'], ['13-100 MeV H', 489, '#ff0000']]},
  {y: 445, items: [['0.12-1.08 MeV/n He', 80, '#000000'], ['0.12-1.08 MeV/n CNO', 249, '#0000ff'], ['0.12-1.08 MeV Fe', 424, '#ff0000']]},
  {y: 661, items: [['4 to 12 MeV/n He', 80, '#000000'], ['4 to 12 MeV/n CNO', 233, '#0000ff'], ['4 to 12 MeV Fe', 393, '#ff0000']]},
  {y: 882, items: [['STEREO Ahead', 80, '#000000'], ['Start: 21-Sep-2023 00:00 UTC', 292, '#000000']]}
];

const FONT = 'DejaVu Sans';
const panels = [
  {top: 23, height: 180, min: 1e-3, max: 1e7, major: [1e-2,1,1e2,1e4,1e6],
   decades: [1e-3,1e-2,1e-1,1,1e1,1e2,1e3,1e4,1e5,1e6,1e7], name: '1/(cm\u00b2  s  sr  MeV)'},
  {top: 240, height: 179, min: 1e-5, max: 1e6, major: [1e-4,1e-2,1,1e2,1e4,1e6],
   decades: [1e-5,1e-4,1e-3,1e-2,1e-1,1,1e1,1e2,1e3,1e4,1e5,1e6], name: '1/(cm\u00b2  s  sr  MeV)'},
  {top: 455, height: 179.5, min: 1e-3, max: 1e4, major: [1e-3,1e-2,1e-1,1,1e1,1e2,1e3,1e4],
   decades: [1e-3,1e-2,1e-1,1,1e1,1e2,1e3,1e4], name: '1/(cm\u00b2  s  sr  MeV/nuc.)'},
  {top: 671, height: 180, min: 1e-5, max: 1e3, major: [1e-4,1e-2,1,1e2],
   decades: [1e-5,1e-4,1e-3,1e-2,1e-1,1,1e1,1e2,1e3], name: '1/(cm\u00b2  s  sr  MeV/nuc.)'}
];

const black = '#000000';
const grids = [], xAxes = [], yAxes = [];
panels.forEach((p, gi) => {
  grids.push({left: 81, width: 695, top: p.top, height: p.height, containLabel: false});
  const xBase = {type: 'value', gridIndex: gi, min: 0, max: 72, interval: 24,
    axisLine: {show: true, onZero: false, lineStyle: {color: black, width: 1}},
    axisTick: {show: true, inside: true, length: 5, lineStyle: {color: black}},
    minorTick: {show: true, splitNumber: 4, length: 3, lineStyle: {color: black}},
    splitLine: {show: false}, minorSplitLine: {show: false}};
  xAxes.push(Object.assign({}, xBase, {position: 'bottom',
    axisLabel: {show: gi === 3, showMinLabel: true, showMaxLabel: true, margin: 7, color: black,
      fontFamily: FONT, fontSize: 13.5, formatter: v => xTickLabels[Math.round(v / 24)]}}));
  xAxes.push(Object.assign({}, xBase, {position: 'top', axisLabel: {show: false}}));
  const yBase = {type: 'log', logBase: 10, gridIndex: gi, min: p.min, max: p.max,
    splitLine: {show: false}, minorTick: {show: false}, minorSplitLine: {show: false},
    axisLine: {show: true, onZero: false, lineStyle: {color: black, width: 1}},
    axisLabel: {show: false}};
  const longTick = {show: true, inside: true, length: 14, customValues: p.major, lineStyle: {color: black}};
  const shortTick = {show: true, inside: true, length: 7, customValues: p.decades, lineStyle: {color: black}};
  yAxes.push(Object.assign({}, yBase, {position: 'left', axisTick: longTick,
    axisLabel: {show: true, customValues: p.major, margin: 5,
      formatter: v => '{b|10}{e|' + Math.round(Math.log10(v)) + '}',
      rich: {b: {fontFamily: FONT, fontSize: 12, color: black, lineHeight: 18},
             e: {fontFamily: FONT, fontSize: 8.5, color: black, lineHeight: 8, verticalAlign: 'top'}}},
    name: p.name, nameLocation: 'middle', nameGap: 43, nameRotate: 90,
    nameTextStyle: {fontFamily: FONT, fontSize: 13.5, color: black}}));
  yAxes.push(Object.assign({}, yBase, {position: 'left', axisTick: shortTick, axisLine: {show: false}}));
  yAxes.push(Object.assign({}, yBase, {position: 'right', axisTick: longTick}));
  yAxes.push(Object.assign({}, yBase, {position: 'right', axisTick: shortTick, axisLine: {show: false}}));
});

function stepPts(vals, start) {
  const out = [];
  vals.forEach((v, i) => { if (v != null) out.push([start + i * STEP, v]); });
  return out;
}
function both(a, b) { return stepPts(a, 0).concat(stepPts(b, OFFSET)); }
function pairPts(ts, vs) { return ts.map((t, i) => [t, vs[i]]); }
function line(gi, ts, vs, color) {
  return {type: 'line', xAxisIndex: gi * 2, yAxisIndex: gi * 4, data: pairPts(ts, vs),
    showSymbol: false, symbol: 'none', lineStyle: {color, width: 2.5}, animation: false, silent: true};
}
function dots(gi, data, color, size) {
  return {type: 'scatter', xAxisIndex: gi * 2, yAxisIndex: gi * 4, data, symbol: 'rect',
    symbolSize: size, itemStyle: {color, opacity: 1}, animation: false, silent: true, large: false, progressive: 0};
}
const hours = eLow.map((v, i) => i);
const series = [
  line(0, hours, eLow, '#000000'),
  dots(0, both(eHigh, eHighB), '#0000ff', [2, 2]),
  line(1, tP2, hLow, '#000000'),
  line(1, tP2, hMid, '#0000ff'),
  line(1, tP2, hHigh, '#c97f66'),
  dots(1, both(hTop, hTopB), '#ff0000', [3, 2]),
  dots(2, both(heLow, heLowB), '#000000', [2, 2]),
  dots(2, stepPts(cnoLow, 0), '#0000ff', [3, 2]),
  dots(2, stepPts(feLow, 0), '#ff0000', [3, 2]),
  dots(3, both(heHigh, heHighB), '#000000', [3, 2]),
  dots(3, pairPts(cnoHighT, cnoHighV), '#0000ff', [3, 2]),
  dots(3, pairPts(feHighT, feHighV), '#ff0000', [3, 2])
];

const graphic = [];
titleRows.forEach(r => r.items.forEach(([text, x, color]) => {
  graphic.push({type: 'text', x, y: r.y, silent: true,
    style: {text, fill: color, font: '13.5px "DejaVu Sans"', verticalAlign: 'middle', align: 'left'}});
}));

const chart = echarts.init(document.getElementById('c'), null, {renderer: 'canvas'});
chart.setOption({
  backgroundColor: '#ffffff',
  animation: false,
  grid: grids,
  xAxis: xAxes,
  yAxis: yAxes,
  series,
  graphic
});
</script>
</body></html>
